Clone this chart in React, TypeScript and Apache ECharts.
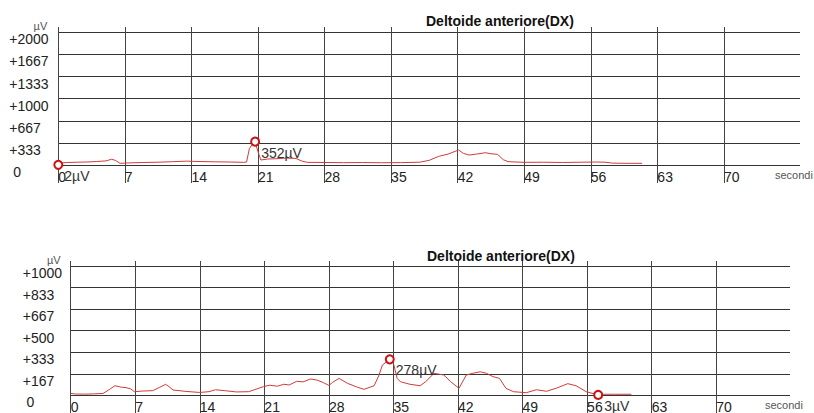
import React, { useEffect, useRef } from 'react';
import * as echarts from 'echarts';

const TITLE = 'Deltoide anteriore(DX)';
const X_NAME = 'secondi';
const Y_NAME = 'µV';
const X_MAX = 78;
const X_LAST_TICK = 70;
const X_STEP = 7;
const TOP_Y_MAX = 2000;
const BOTTOM_Y_MAX = 1000;
const Y_DIVISIONS = 6;

const topTimes = [0, 0.3, 1, 2, 3, 4, 5, 5.6, 6.0, 6.5, 7.5, 9, 10.5, 12, 13.5, 15, 16.5, 18, 19.5, 19.8, 20.1, 20.4, 20.7, 21.0, 21.3, 22, 23, 24, 25, 25.6, 26.2, 28, 30, 32, 34, 36, 38, 39, 40, 41, 42.1, 42.6, 43.2, 44, 44.9, 45.5, 46.2, 46.8, 47.3, 49, 51, 53, 55, 56.5, 57.5, 58.3, 60, 61.4];
const topValues = [2, 30, 38, 42, 45, 52, 62, 86, 70, 25, 32, 38, 42, 50, 58, 52, 48, 45, 40, 45, 250, 310, 352, 200, 75, 90, 95, 105, 98, 60, 40, 38, 35, 37, 34, 36, 42, 70, 130, 165, 226, 175, 150, 165, 185, 170, 160, 80, 50, 40, 42, 38, 42, 45, 42, 28, 25, 25];

const bottomTimes = [0, 0.5, 1.5, 2.5, 3.5, 4.2, 4.8, 5.4, 6.0, 6.5, 6.9, 7.8, 8.9, 9.6, 10.3, 10.7, 11.1, 12.5, 14, 15, 15.7, 16.8, 18, 19.3, 20.2, 20.9, 21.6, 22.4, 23.1, 23.7, 24.5, 25.2, 26.0, 26.7, 27.4, 28.0, 28.4, 29.1, 30.0, 31.0, 31.8, 32.9, 33.4, 33.8, 34.6, 35.0, 35.4, 35.75, 36.8, 37.9, 38.5, 39.4, 40.45, 41.2, 42.1, 42.9, 43.6, 44.4, 45.1, 45.8, 46.5, 47.2, 48, 49.4, 50.5, 51.6, 52.7, 53.9, 54.8, 55.9, 57.2, 57.6, 59, 60.8];
const bottomValues = [15, 10, 9, 11, 14, 45, 74, 64, 59, 50, 28, 33, 36, 60, 85, 65, 41, 30, 22, 28, 43, 35, 26, 28, 50, 67, 78, 70, 85, 80, 108, 104, 126, 118, 98, 76, 100, 131, 93, 65, 46, 74, 150, 234, 278, 247, 131, 105, 85, 74, 106, 170, 157, 106, 54, 157, 170, 182, 170, 144, 131, 54, 28, 20, 43, 31, 56, 90, 74, 28, 3, 8, 8, 8];

const FONT = "'Liberation Sans', Arial, Helvetica, sans-serif";
const LINE_COLOR = '#d23a3a';
const MARK_COLOR = '#cc1111';
const GRID_COLOR = '#333';
const VLINE_COLOR = '#444';

const zip = (xs: number[], ys: number[]) => xs.map((x, i) => [x, ys[i]]);

type Layout = { left: number; top: number; width: number; height: number; vTop: number; vHeight: number; labelMargin: number; namePad: number; titleLeft: number; titleTop: number };

const topLayout: Layout = { left: 58.3, top: 32.3, width: 741.7, height: 132.7, vTop: 27, vHeight: 156, labelMargin: 49, namePad: 11, titleLeft: 426, titleTop: 14 };
const bottomLayout: Layout = { left: 70.7, top: 266, width: 719.3, height: 129.3, vTop: 261, vHeight: 152, labelMargin: 48, namePad: 10, titleLeft: 427, titleTop: 248.5 };

function buildPanel(L: Layout, idx: number, yMax: number, data: number[][]) {
  const gMain = idx * 2;
  const gV = idx * 2 + 1;
  const grids = [
    { left: L.left, top: L.top, width: L.width, height: L.height, containLabel: false, outerBoundsMode: 'none' },
    { left: L.left, top: L.vTop, width: (L.width * X_LAST_TICK) / X_MAX, height: L.vHeight, containLabel: false, outerBoundsMode: 'none' },
  ];
  const xAxes = [
    {
      type: 'value', gridIndex: gMain, min: 0, max: X_MAX, interval: X_STEP,
      axisLine: { show: false }, axisTick: { show: false }, splitLine: { show: false },
      axisLabel: {
        show: true, margin: 5, align: 'left', lineHeight: 14, fontSize: 14, color: '#222', fontFamily: FONT,
        showMaxLabel: false,
        formatter: (v: number) => (v <= X_LAST_TICK ? String(v) : ''),
      },
      name: X_NAME, nameLocation: 'end', nameGap: -25,
      nameTextStyle: { fontSize: 11, color: '#555', fontFamily: FONT, align: 'left', verticalAlign: 'top', lineHeight: 11, padding: [4, 0, 0, 0] },
    },
    {
      type: 'value', gridIndex: gV, min: 0, max: X_LAST_TICK, interval: X_STEP,
      axisLine: { show: false }, axisTick: { show: false }, axisLabel: { show: false },
      splitLine: { show: true, showMinLine: true, showMaxLine: true, lineStyle: { color: VLINE_COLOR, width: 1 } },
    },
  ];
  const yAxes = [
    {
      type: 'value', gridIndex: gMain, min: 0, max: yMax, interval: yMax / Y_DIVISIONS,
      axisLine: { show: false }, axisTick: { show: false },
      splitLine: { show: true, showMinLine: true, showMaxLine: true, lineStyle: { color: GRID_COLOR, width: 1 } },
      axisLabel: {
        show: true, margin: L.labelMargin, align: 'left', verticalAlign: 'top', lineHeight: 14, fontSize: 14, color: '#222', fontFamily: FONT,
        formatter: (v: number) => (v === 0 ? '\u00a00' : '+' + Math.round(v)),
      },
      name: Y_NAME, nameLocation: 'end', nameGap: 1,
      nameTextStyle: { fontSize: 11, color: '#555', fontFamily: FONT, align: 'right', verticalAlign: 'bottom', lineHeight: 11, padding: [0, L.namePad, 0, 0] },
    },
    { type: 'value', gridIndex: gV, min: 0, max: 1, show: false, splitLine: { show: false } },
  ];
  const series = [
    {
      type: 'line', xAxisIndex: gMain, yAxisIndex: gMain, data, showSymbol: false, silent: true,
      lineStyle: { color: LINE_COLOR, width: 1 }, itemStyle: { color: LINE_COLOR },
      emphasis: { disabled: true }, clip: false,
      markPoint: {
        symbol: 'circle', symbolSize: 8, silent: true,
        itemStyle: { color: '#fff', borderColor: MARK_COLOR, borderWidth: 2 },
        label: {
          show: true, position: 'right', distance: 1, offset: [0, 11],
          formatter: (p: any) => `${p.value}µV`, color: '#333', fontSize: 14, fontFamily: FONT,
        },
        data: [{ type: 'max' }, { type: 'min' }],
      },
    },
  ];
  const title = {
    text: TITLE, left: L.titleLeft, top: L.titleTop, padding: 0,
    textStyle: { fontSize: 14, fontWeight: 'bold', color: '#111', fontFamily: FONT, lineHeight: 14 },
  };
  return { grids, xAxes, yAxes, series, title };
}

export default function App() {
  const ref = useRef<HTMLDivElement>(null);
  useEffect(() => {
    if (!ref.current) return;
    const chart = echarts.init(ref.current, null, { renderer: 'svg' });
    const a = buildPanel(topLayout, 0, TOP_Y_MAX, zip(topTimes, topValues));
    const b = buildPanel(bottomLayout, 1, BOTTOM_Y_MAX, zip(bottomTimes, bottomValues));
    chart.setOption({
      animation: false,
      backgroundColor: '#fff',
      textStyle: { fontFamily: FONT },
      title: [a.title, b.title],
      grid: [...a.grids, ...b.grids],
      xAxis: [...a.xAxes, ...b.xAxes],
      yAxis: [...a.yAxes, ...b.yAxes],
      series: [...a.series, ...b.series],
    });
    return () => chart.dispose();
  }, []);
  return <div ref={ref} style={{ position: 'fixed', left: 0, top: 0, width: 814, height: 413, background: '#fff' }} />;
}
